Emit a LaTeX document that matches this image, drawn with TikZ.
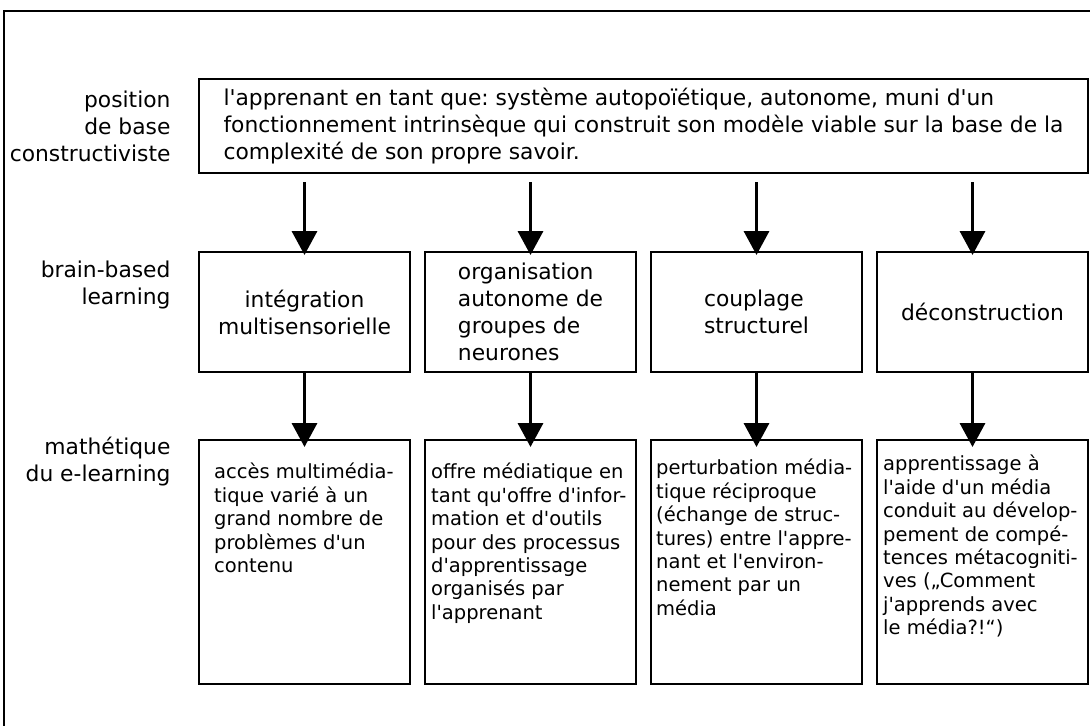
\documentclass[tikz,border=0pt]{standalone}
\usepackage{fontspec}
\setmainfont{DejaVu Sans}[Ligatures=TeXOff]
\usetikzlibrary{arrows.meta}
\frenchspacing

\tikzset{
  box/.style={draw, line width=2pt, minimum width=211pt, inner sep=0pt},
  arr/.style={-{Triangle[width=25pt,length=24pt]}, line width=3.5pt},
  big/.style={font=\fontsize{21.8}{27}\selectfont},
  small/.style={font=\fontsize{19.5}{23.4}\selectfont, anchor=north west, align=left, inner sep=0pt}
}

\begin{document}
\begin{tikzpicture}[x=1pt,y=-1pt]
\useasboundingbox (0,0) rectangle (1090,726);
% frame
\draw[line width=2pt] (1090,11) -- (4,11) -- (4,726);

% position de base
\node[draw, line width=2pt, big, anchor=north west, align=left, inner sep=0pt, minimum width=889pt, minimum height=94pt] (base) at (198,78) {%
l'apprenant en tant que: système autopoïétique, autonome, muni d'un\\
fonctionnement intrinsèque qui construit son modèle viable sur la base de la\\
complexité de son propre savoir.};

% brain-based learning
\node[box, big, minimum height=120pt, anchor=north west, align=center] (m1) at (198,251) {intégration\\multisensorielle};
\node[box, big, minimum height=120pt, anchor=north west, align=left] (m2) at (424,251) {organisation\\autonome de\\groupes de\\neurones};
\node[box, big, minimum height=120pt, anchor=north west, align=left] (m3) at (650,251) {couplage\\structurel};
\node[box, big, minimum height=120pt, anchor=north west, align=center] (m4) at (876,251) {déconstruction};

% e-learning
\node[box, minimum height=244pt, anchor=north west] (b1) at (198,439) {};
\node[box, minimum height=244pt, anchor=north west] (b2) at (424,439) {};
\node[box, minimum height=244pt, anchor=north west] (b3) at (650,439) {};
\node[box, minimum height=244pt, anchor=north west] (b4) at (876,439) {};

\node[small] (t1) at ([xshift=16pt,yshift=-24pt]b1.north west) {accès multimédia-\\tique varié à un\\grand nombre de\\problèmes d'un\\contenu};
\node[small] (t2) at ([xshift=7pt,yshift=-24pt]b2.north west) {offre médiatique en\\tant qu'offre d'infor-\\mation et d'outils\\pour des processus\\d'apprentissage\\organisés par\\l'apprenant};
\node[small] (t3) at ([xshift=6pt,yshift=-20pt]b3.north west) {perturbation média-\\tique réciproque\\(échange de struc-\\tures) entre l'appre-\\nant et l'environ-\\nement par un\\média};
\node[small] (t4) at ([xshift=7pt,yshift=-16pt]b4.north west) {apprentissage à\\l'aide d'un média\\conduit au dévelop-\\pement de compé-\\tences métacogniti-\\ves („Comment\\j'apprends avec\\le média?!“)};

% labels
\node[big, align=right, anchor=east] (lab1) at (174,126) {position\\de base\\constructiviste};
\node[big, align=right, anchor=east] (lab2) at (174,285) {brain-based\\learning};
\node[big, align=right, anchor=east] (lab3) at (174,462) {mathétique\\du e-learning};

% arrows
\coordinate (a4) at ([xshift=-10pt]m4.north);
\coordinate (c4) at ([xshift=-10pt]b4.north);
\draw[arr, shorten <=8pt, shorten >=-4pt] (m1.north |- base.south) -- (m1.north);
\draw[arr, shorten <=8pt, shorten >=-4pt] (m2.north |- base.south) -- (m2.north);
\draw[arr, shorten <=8pt, shorten >=-4pt] (m3.north |- base.south) -- (m3.north);
\draw[arr, shorten <=8pt, shorten >=-4pt] (a4 |- base.south) -- (a4);
\draw[arr, shorten >=-8pt] (m1.south) -- (b1.north);
\draw[arr, shorten >=-8pt] (m2.south) -- (b2.north);
\draw[arr, shorten >=-8pt] (m3.south) -- (b3.north);
\draw[arr, shorten >=-8pt] (c4 |- m4.south) -- (c4);
\end{tikzpicture}
\end{document}
